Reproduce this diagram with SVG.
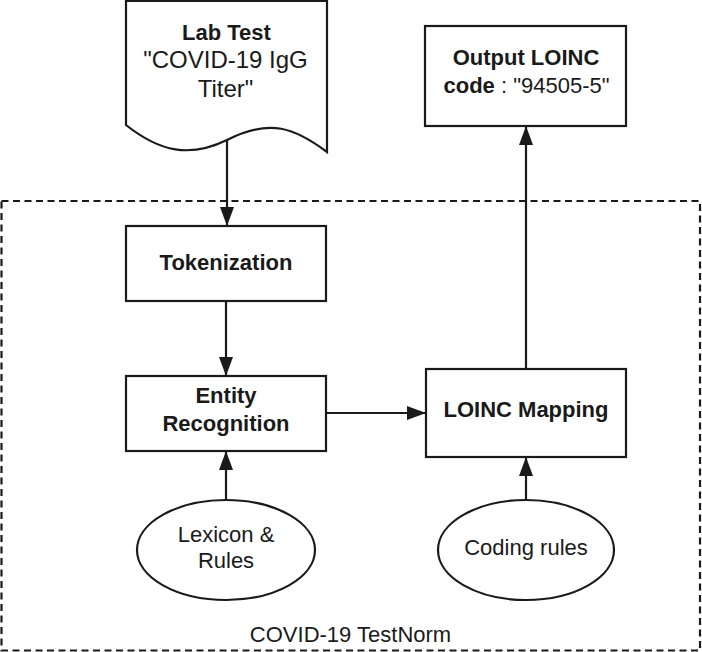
<svg xmlns="http://www.w3.org/2000/svg" width="702" height="652" viewBox="0 0 702 652">
<style>
.shape{fill:#ffffff;stroke:#1a1a1a;stroke-width:2.2}
.conn{fill:none;stroke:#1a1a1a;stroke-width:2.2}
.container{fill:none;stroke:#1a1a1a;stroke-width:2.2;stroke-dasharray:7 4.5}
text{font-family:"Liberation Sans",Arial,Helvetica,sans-serif;font-size:22px;fill:#1a1a1a;text-anchor:middle}
.b{font-weight:bold}
.big{font-size:24px}
</style>
<defs>
<marker id="arrow" markerUnits="userSpaceOnUse" markerWidth="20" markerHeight="14" refX="19" refY="7" orient="auto">
<path d="M0,0 L19,7 L0,14 Z" fill="#1a1a1a"/>
</marker>
</defs>
<g id="container">
<rect class="container" x="1.5" y="201" width="698.5" height="449.5"/>
<text x="350.5" y="642">COVID-19 TestNorm</text>
</g>
<g id="connectors">
<line class="conn" x1="227" y1="140" x2="227" y2="226" marker-end="url(#arrow)"/>
<line class="conn" x1="226" y1="301" x2="226" y2="376" marker-end="url(#arrow)"/>
<line class="conn" x1="326" y1="413" x2="426" y2="413" marker-end="url(#arrow)"/>
<line class="conn" x1="526" y1="369" x2="526" y2="126" marker-end="url(#arrow)"/>
<line class="conn" x1="226" y1="500" x2="226" y2="451" marker-end="url(#arrow)"/>
<line class="conn" x1="526" y1="500" x2="526" y2="457" marker-end="url(#arrow)"/>
</g>
<g id="labtest">
<path class="shape" d="M126,1 H327 V152 C 295,128 270,118 227,140 C 190,158 160,152 126,125 Z"/>
<text class="b" x="226.5" y="39.5">Lab Test</text>
<text class="big" x="225.5" y="68.3">"COVID-19 IgG</text>
<text class="big" x="225.5" y="97.3">Titer"</text>
</g>
<g id="output">
<rect class="shape" x="425" y="26" width="201" height="100"/>
<text class="b" x="526" y="65">Output LOINC</text>
<text x="526.5" y="92.5"><tspan class="b">code</tspan> : "94505-5"</text>
</g>
<g id="tokenization">
<rect class="shape" x="126" y="226" width="200" height="75"/>
<text class="b" x="226" y="270">Tokenization</text>
</g>
<g id="entity">
<rect class="shape" x="126" y="376" width="200" height="75"/>
<text class="b" x="226" y="403">Entity</text>
<text class="b" x="226" y="430.5">Recognition</text>
</g>
<g id="mapping">
<rect class="shape" x="426" y="369" width="200" height="88"/>
<text class="b" x="526" y="417">LOINC Mapping</text>
</g>
<g id="lexicon">
<ellipse class="shape" cx="226" cy="550" rx="89" ry="50"/>
<text x="226" y="541.5">Lexicon &amp;</text>
<text x="226" y="568">Rules</text>
</g>
<g id="coding">
<ellipse class="shape" cx="526" cy="550" rx="88" ry="50"/>
<text x="526" y="554.5">Coding rules</text>
</g>
</svg>
